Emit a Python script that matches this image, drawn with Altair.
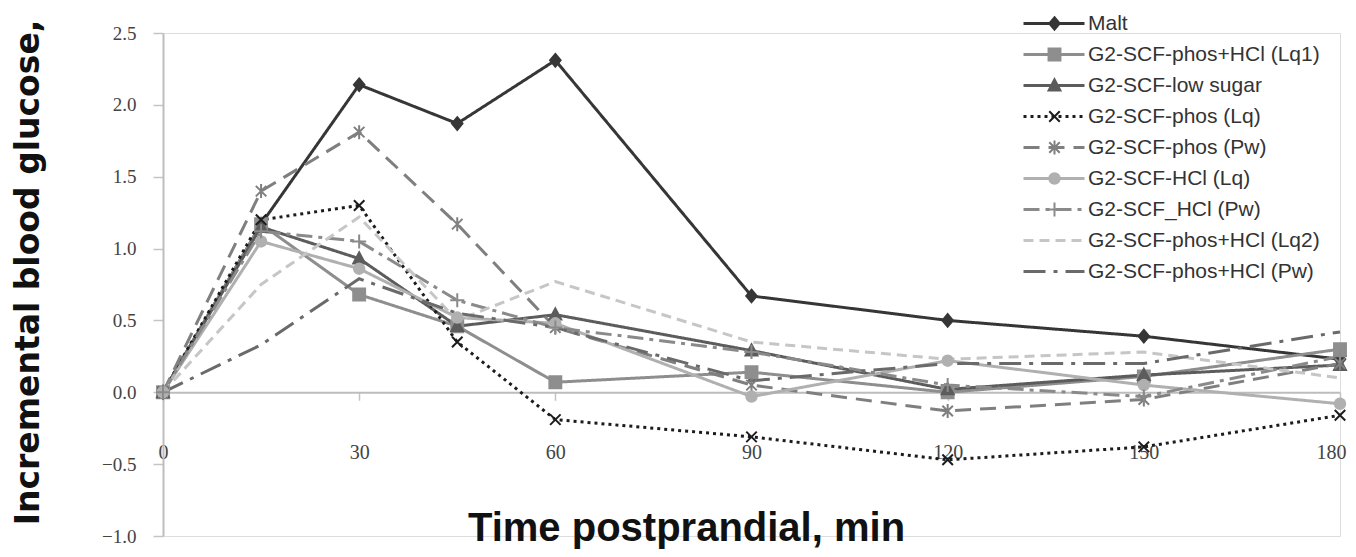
import altair as alt
import pandas as pd

# ---------------- data ----------------
times = [0, 15, 30, 45, 60, 90, 120, 150, 180]
series_names = [
    "Malt",
    "G2-SCF-phos+HCl (Lq1)",
    "G2-SCF-low sugar",
    "G2-SCF-phos (Lq)",
    "G2-SCF-phos (Pw)",
    "G2-SCF-HCl (Lq)",
    "G2-SCF_HCl (Pw)",
    "G2-SCF-phos+HCl (Lq2)",
    "G2-SCF-phos+HCl (Pw)",
]
malt       = [0, 1.17, 2.14, 1.87, 2.31, 0.67, 0.50, 0.39, 0.23]
phos_hcl_lq1 = [0, 1.17, 0.68, 0.46, 0.07, 0.14, 0.00, 0.11, 0.30]
low_sugar  = [0, 1.15, 0.93, 0.46, 0.54, 0.29, 0.02, 0.12, 0.19]
phos_lq    = [0, 1.20, 1.30, 0.35, -0.19, -0.31, -0.47, -0.38, -0.16]
phos_pw    = [0, 1.40, 1.81, 1.17, 0.45, 0.05, -0.13, -0.05, 0.20]
hcl_lq     = [0, 1.05, 0.86, 0.52, 0.48, -0.03, 0.22, 0.05, -0.08]
hcl_pw     = [0, 1.12, 1.05, 0.64, 0.45, 0.28, 0.05, -0.03, 0.25]
phos_hcl_lq2 = [0, 0.75, 1.22, 0.50, 0.77, 0.35, 0.23, 0.28, 0.10]
phos_hcl_pw  = [0, 0.33, 0.79, 0.55, 0.45, 0.08, 0.20, 0.20, 0.42]
series_values = [malt, phos_hcl_lq1, low_sugar, phos_lq, phos_pw,
                 hcl_lq, hcl_pw, phos_hcl_lq2, phos_hcl_pw]
x_ticks = [0, 30, 60, 90, 120, 150, 180]
y_ticks = [-1.0, -0.5, 0.0, 0.5, 1.0, 1.5, 2.0, 2.5]

# ---------------- styles ----------------
line_colors = ["#363636", "#8e8e8e", "#5c5c5c", "#1c1c1c", "#7f7f7f",
               "#b0b0b0", "#8a8a8a", "#c6c6c6", "#6a6a6a"]
dashes = [[1, 0], [1, 0], [1, 0], [3, 4], [16, 9], [1, 0],
          [16, 6, 4, 6], [10, 6], [22, 8, 4, 8]]
shapes = [
    "M0,-0.9L0.75,0L0,0.9L-0.75,0Z",                     # diamond
    "M-0.85,-0.85H0.85V0.85H-0.85Z",                     # square
    "M0,-0.9L0.85,0.7L-0.85,0.7Z",                       # triangle
    "M-0.75,-0.75L0.75,0.75M0.75,-0.75L-0.75,0.75",      # x
    "M-0.75,-0.75L0.75,0.75M0.75,-0.75L-0.75,0.75M0,-1L0,1",  # asterisk
    "M-0.75,0A0.75,0.75 0 1,0 0.75,0A0.75,0.75 0 1,0 -0.75,0Z",  # circle
    "M-1,0H1M0,-1V1",                                    # plus
    "M0,0",                                              # none
    "M0,0",                                              # none
]
has_marker = [True, True, True, True, True, True, True, False, False]
marker_keys = [n + " " for n in series_names]   # separate domain -> separate legend

rows = []
for name, key, vals, mk in zip(series_names, marker_keys, series_values, has_marker):
    for t, v in zip(times, vals):
        rows.append({"series": name, "series2": key, "time": t,
                     "value": v, "marker": mk})
df = pd.DataFrame(rows)

W, H = 1177, 503
ZERO_OFFSET = -H * 1.0 / 3.5

x_enc = alt.X(
    "time:Q",
    scale=alt.Scale(domain=[0, 180], nice=False, zero=False),
    axis=alt.Axis(
        values=x_ticks, grid=False, offset=ZERO_OFFSET,
        title="Time postprandial, min",
        titleFont="Liberation Sans", titleFontSize=40, titleFontWeight="bold",
        titleColor="#111111", titleX=523, titleY=148,
        titleAlign="center", titleBaseline="alphabetic",
        labelFont="Liberation Serif", labelFontSize=20, labelColor="#444444",
        labelBaseline="middle", labelPadding=52, labelFlush=False,
        labelOffset={"condition": {"test": "datum.value == 180", "value": -9}, "value": 0},
        tickSize=8, tickColor="#c4c4c4", tickWidth=1.5,
        domainColor="#bdbdbd", domainWidth=2,
    ),
)
y_enc = alt.Y(
    "value:Q",
    scale=alt.Scale(domain=[-1.0, 2.5], nice=False, zero=False),
    axis=alt.Axis(
        values=y_ticks, format=".1f", grid=False,
        title="Incremental blood glucose,",
        titleFont="DejaVu Sans", titleFontSize=33, titleFontWeight="bold",
        titleColor="#111111", titleX=-135, titleY=239, titleAngle=270,
        titleAlign="center", titleBaseline="middle",
        labelFont="Liberation Serif", labelFontSize=19, labelColor="#444444",
        labelPadding=17, tickSize=10, tickColor="#c4c4c4", tickWidth=1.5,
        domainColor="#bdbdbd", domainWidth=2, labelFlush=False,
    ),
)

LEG_X = 859
LEG_Y = -25
leg1 = alt.Legend(
    title=None, orient="none", legendX=LEG_X, legendY=LEG_Y, padding=0,
    symbolType="stroke", symbolSize=3721, symbolStrokeWidth=3,
    labelFont="Liberation Sans", labelFontSize=21, labelColor="#333333",
    labelOffset=2, clipHeight=31, rowPadding=0, labelLimit=400,
)
# marker-only legend laid over the line legend (no visible labels)
leg2 = alt.Legend(
    title=None, orient="none", legendX=LEG_X, legendY=LEG_Y, padding=0,
    symbolSize=196, symbolStrokeWidth=2, symbolOffset=22, symbolOpacity=1,
    labelFont="Liberation Sans", labelFontSize=21, labelExpr="' '",
    labelOffset=2, clipHeight=31, rowPadding=0, labelLimit=400,
)

lines = alt.Chart(df).mark_line(strokeWidth=3).encode(
    x=x_enc, y=y_enc,
    color=alt.Color("series:N", scale=alt.Scale(domain=series_names, range=line_colors), legend=leg1),
    strokeDash=alt.StrokeDash("series:N", scale=alt.Scale(domain=series_names, range=dashes), legend=leg1),
)

points = alt.Chart(df).transform_filter("datum.marker").mark_point(
    filled=True, opacity=1, strokeWidth=2, size=196
).encode(
    x=x_enc, y=y_enc,
    shape=alt.Shape("series2:N", scale=alt.Scale(domain=marker_keys, range=shapes), legend=leg2),
    fill=alt.Fill("series2:N", scale=alt.Scale(domain=marker_keys, range=line_colors), legend=leg2),
    stroke=alt.Stroke("series2:N", scale=alt.Scale(domain=marker_keys, range=line_colors), legend=leg2),
)

chart = alt.layer(lines, points).properties(
    width=W, height=H,
    autosize=alt.AutoSizeParams(type="none"),
    padding={"left": 155, "top": 25, "right": 8, "bottom": 13},
).configure_view(stroke=None).configure(background="white")

chart.save("out.html", embed_options={"renderer": "svg", "actions": False})
